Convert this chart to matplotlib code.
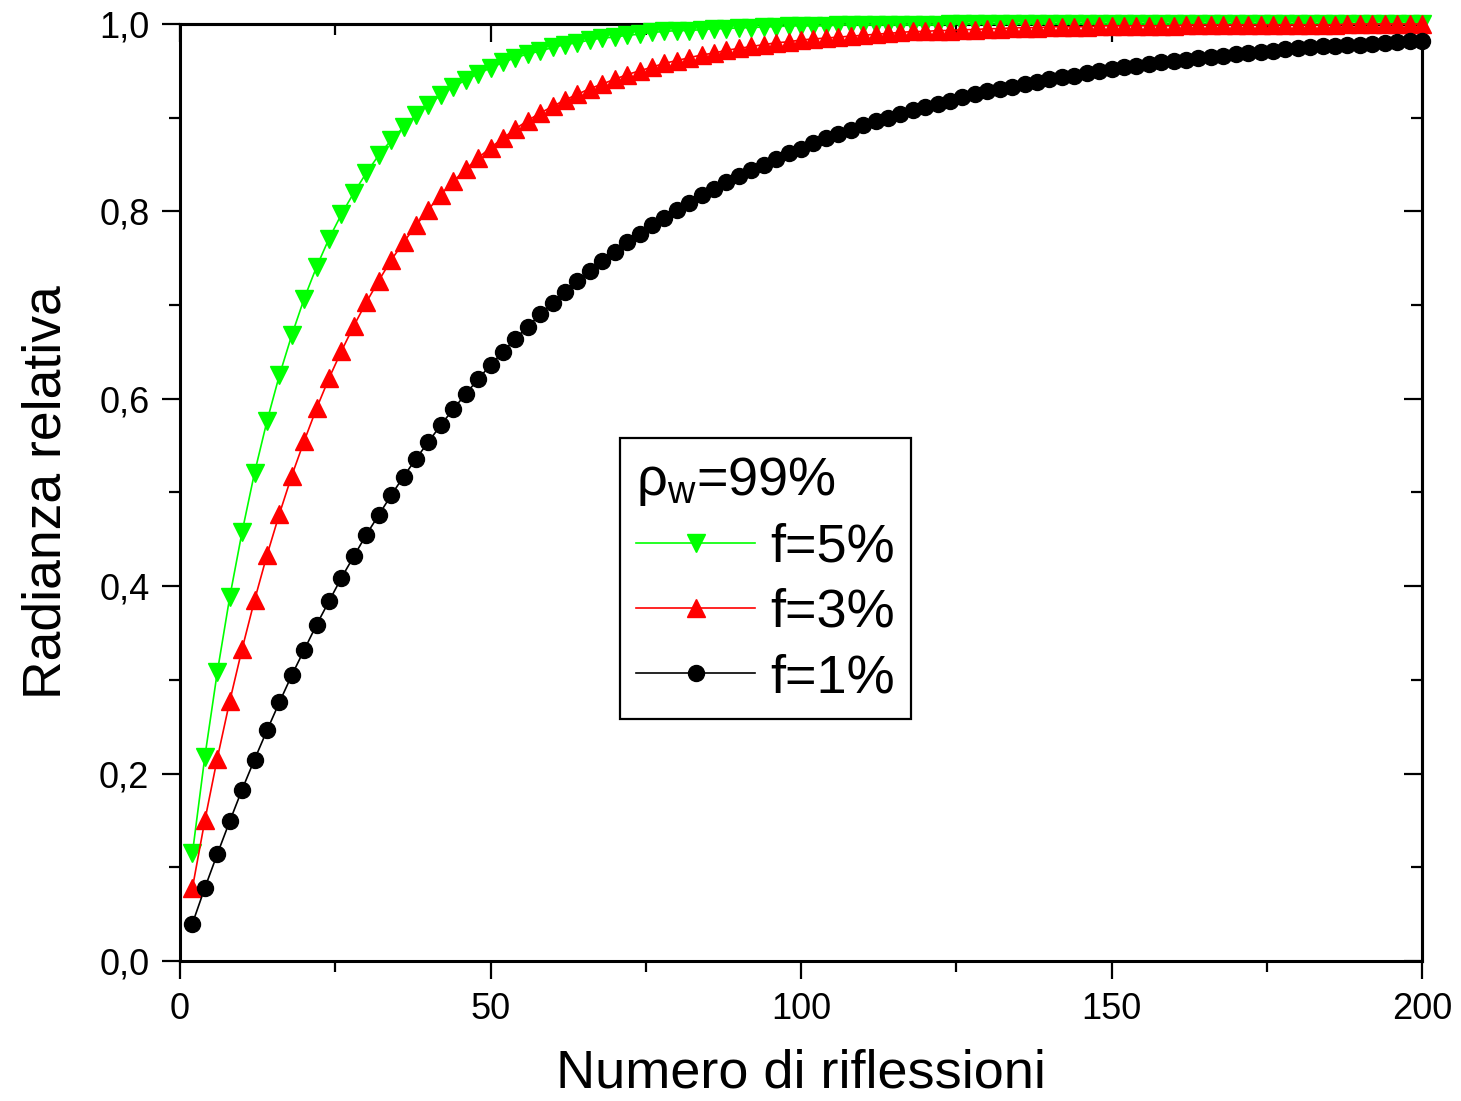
import matplotlib
matplotlib.use("Agg")
import matplotlib.pyplot as plt
from matplotlib.ticker import MultipleLocator, FuncFormatter

plt.rcParams['font.family'] = ['Liberation Sans', 'DejaVu Sans']
plt.rcParams['mathtext.fontset'] = 'custom'
plt.rcParams['mathtext.rm'] = 'Liberation Sans'

# number of reflections (sampled every 2)
reflections = list(range(2, 202, 2))

# relative radiance, f=1% (black circles)
rad_f1 = [
    0.040, 0.078, 0.114, 0.149, 0.183, 0.215, 0.246, 0.276, 0.305, 0.332,
    0.359, 0.384, 0.409, 0.432, 0.455, 0.476, 0.497, 0.517, 0.536, 0.554,
    0.572, 0.589, 0.605, 0.621, 0.636, 0.650, 0.664, 0.677, 0.690, 0.702,
    0.714, 0.726, 0.736, 0.747, 0.757, 0.767, 0.776, 0.785, 0.793, 0.801,
    0.809, 0.817, 0.824, 0.831, 0.838, 0.844, 0.850, 0.856, 0.862, 0.867,
    0.873, 0.878, 0.883, 0.887, 0.892, 0.896, 0.900, 0.904, 0.908, 0.911,
    0.915, 0.918, 0.922, 0.925, 0.928, 0.931, 0.933, 0.936, 0.938, 0.941,
    0.943, 0.945, 0.948, 0.950, 0.952, 0.954, 0.955, 0.957, 0.959, 0.961,
    0.962, 0.964, 0.965, 0.966, 0.968, 0.969, 0.970, 0.971, 0.973, 0.974,
    0.975, 0.976, 0.977, 0.978, 0.978, 0.979, 0.980, 0.981, 0.982, 0.982,
]

# relative radiance, f=3% (red up triangles)
rad_f3 = [
    0.078, 0.150, 0.216, 0.277, 0.333, 0.385, 0.433, 0.477, 0.518, 0.555,
    0.590, 0.622, 0.651, 0.678, 0.703, 0.726, 0.748, 0.767, 0.785, 0.802,
    0.818, 0.832, 0.845, 0.857, 0.868, 0.878, 0.888, 0.897, 0.905, 0.912,
    0.919, 0.925, 0.931, 0.936, 0.941, 0.946, 0.950, 0.954, 0.958, 0.961,
    0.964, 0.967, 0.969, 0.972, 0.974, 0.976, 0.978, 0.980, 0.981, 0.983,
    0.984, 0.985, 0.986, 0.987, 0.988, 0.989, 0.990, 0.991, 0.992, 0.992,
    0.993, 0.993, 0.994, 0.994, 0.995, 0.995, 0.996, 0.996, 0.996, 0.997,
    0.997, 0.997, 0.997, 0.998, 0.998, 0.998, 0.998, 0.998, 0.998, 0.998,
    0.999, 0.999, 0.999, 0.999, 0.999, 0.999, 0.999, 0.999, 0.999, 0.999,
    0.999, 0.999, 0.999, 1.000, 1.000, 1.000, 1.000, 1.000, 1.000, 1.000,
]

# relative radiance, f=5% (green down triangles)
rad_f5 = [
    0.115, 0.218, 0.308, 0.388, 0.458, 0.521, 0.576, 0.625, 0.668, 0.707,
    0.741, 0.771, 0.797, 0.820, 0.841, 0.860, 0.876, 0.890, 0.903, 0.914,
    0.924, 0.933, 0.940, 0.947, 0.953, 0.959, 0.964, 0.968, 0.971, 0.975,
    0.978, 0.980, 0.983, 0.985, 0.986, 0.988, 0.989, 0.991, 0.992, 0.993,
    0.993, 0.994, 0.995, 0.995, 0.996, 0.996, 0.997, 0.997, 0.998, 0.998,
    0.998, 0.998, 0.999, 0.999, 0.999, 0.999, 0.999, 0.999, 0.999, 0.999,
    0.999, 1.000, 1.000, 1.000, 1.000, 1.000, 1.000, 1.000, 1.000, 1.000,
    1.000, 1.000, 1.000, 1.000, 1.000, 1.000, 1.000, 1.000, 1.000, 1.000,
    1.000, 1.000, 1.000, 1.000, 1.000, 1.000, 1.000, 1.000, 1.000, 1.000,
    1.000, 1.000, 1.000, 1.000, 1.000, 1.000, 1.000, 1.000, 1.000, 1.000,
]

fig = plt.figure(figsize=(14.61, 11.01), dpi=100)
ax = fig.add_axes([180 / 1461, 1 - 961 / 1101, 1242 / 1461, 937 / 1101])

ax.plot(reflections, rad_f5, color='#00ff00', lw=1.2, marker='v', ms=13,
        mec='#00ff00', label='f=5%', clip_on=False, zorder=3)
ax.plot(reflections, rad_f3, color='#ff0000', lw=1.2, marker='^', ms=13,
        mec='#ff0000', label='f=3%', clip_on=False, zorder=3)
ax.plot(reflections, rad_f1, color='black', lw=1.2, marker='o', ms=11.5,
        label='f=1%', clip_on=False, zorder=3)

ax.set_xlim(0, 200)
ax.set_ylim(0, 1.0)
ax.xaxis.set_major_locator(MultipleLocator(50))
ax.xaxis.set_minor_locator(MultipleLocator(25))
ax.yaxis.set_major_locator(MultipleLocator(0.2))
ax.yaxis.set_minor_locator(MultipleLocator(0.1))
ax.yaxis.set_major_formatter(FuncFormatter(lambda v, p: f'{v:.1f}'.replace('.', ',')))

for s in ax.spines.values():
    s.set_linewidth(2.2)
ax.tick_params(which='major', direction='out', length=13, width=1.6,
               labelsize=26, pad=9)
ax.tick_params(which='minor', direction='out', length=8, width=1.6)

# inward ticks on top and right
top = ax.secondary_xaxis('top')
top.xaxis.set_major_locator(MultipleLocator(50))
top.xaxis.set_minor_locator(MultipleLocator(25))
top.tick_params(which='major', direction='in', length=13, width=1.6, labeltop=False)
top.tick_params(which='minor', direction='in', length=8, width=1.6)
top.spines['top'].set_linewidth(2.2)
right = ax.secondary_yaxis('right')
right.yaxis.set_major_locator(MultipleLocator(0.2))
right.yaxis.set_minor_locator(MultipleLocator(0.1))
right.tick_params(which='major', direction='in', length=13, width=1.6, labelright=False)
right.tick_params(which='minor', direction='in', length=8, width=1.6)
right.spines['right'].set_linewidth(2.2)

ax.set_xlabel('Numero di riflessioni', fontsize=39, labelpad=16)
ax.set_ylabel('Radianza relativa', fontsize=38.5, labelpad=20)

leg = ax.legend(title='ρ$_\\mathregular{w}$=99%', alignment='left',
                loc='lower left', bbox_to_anchor=(0.354, 0.258), borderaxespad=0,
                fontsize=39, title_fontsize=39, fancybox=False, edgecolor='black',
                framealpha=1, handlelength=2.2, handletextpad=0.28,
                labelspacing=0.28, borderpad=0.3)
leg.get_frame().set_linewidth(1.6)

fig.savefig('out.png', dpi=100)
